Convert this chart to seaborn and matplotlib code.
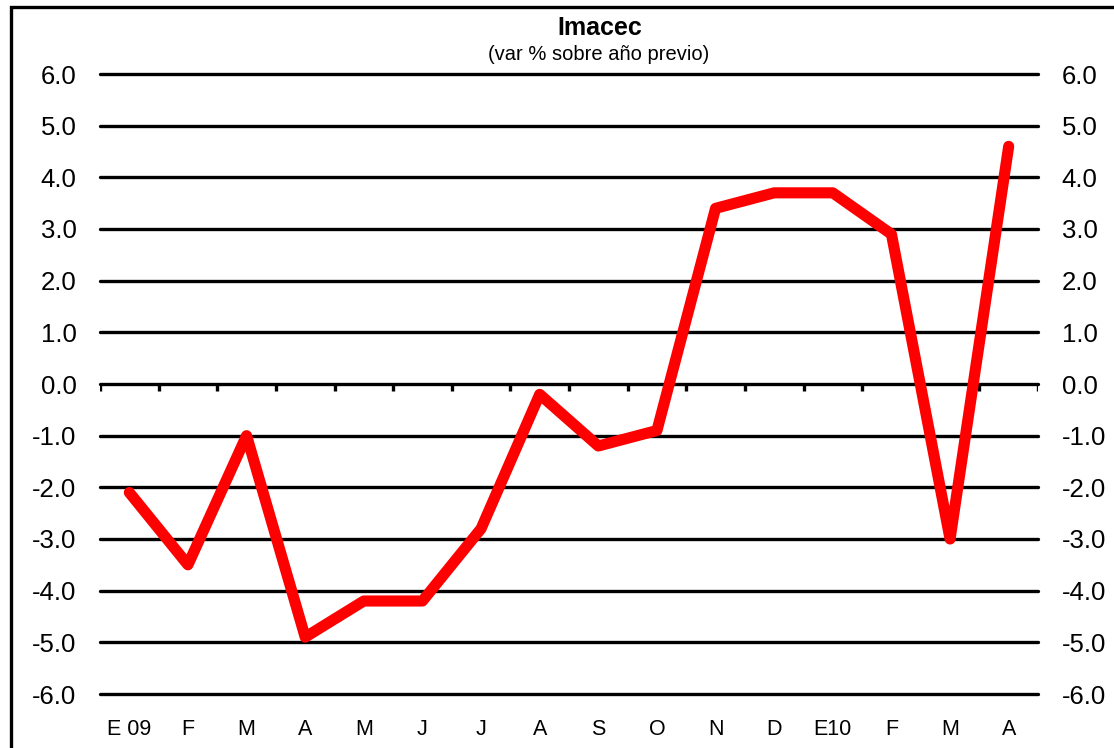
import numpy as np
import pandas as pd
import seaborn as sns
import matplotlib.pyplot as plt
from matplotlib.patches import Rectangle

# Imacec, var % sobre año previo
months = ['E 09', 'F', 'M', 'A', 'M', 'J', 'J', 'A', 'S', 'O',
          'N', 'D', 'E10', 'F', 'M', 'A']
imacec = [-2.1, -3.5, -1.0, -4.9, -4.2, -4.2, -2.8, -0.2, -1.2, -0.9,
          3.4, 3.7, 3.7, 2.9, -3.0, 4.6]
yticks = [-6.0, -5.0, -4.0, -3.0, -2.0, -1.0, 0.0, 1.0, 2.0, 3.0, 4.0, 5.0, 6.0]

df = pd.DataFrame({'pos': np.arange(len(months)), 'imacec': imacec})

sns.set_theme(style='white')
plt.rcParams['font.family'] = ['Liberation Sans', 'DejaVu Sans']
plt.rcParams['text.color'] = 'black'

fig = plt.figure(figsize=(11.14, 7.48), dpi=100)
ax = fig.add_axes([100 / 1114, 1 - 694 / 748, 938 / 1114, 620 / 748])

sns.lineplot(data=df, x='pos', y='imacec', color='#FF0000', linewidth=8,
             solid_capstyle='round', solid_joinstyle='round', ax=ax, zorder=3)

ax.set_xlim(-0.5, len(months) - 0.5)
ax.set_ylim(-6, 6)
ax.set_yticks(yticks)
ax.set_yticklabels([f'{v:.1f}' for v in yticks])
ax.set_xticks(df['pos'])
ax.set_xticklabels(months)
ax.set_xlabel('')
ax.set_ylabel('')

for v in yticks:
    ax.axhline(v, color='black', lw=2.4, zorder=1, clip_on=False)

# little tick marks on the zero line at category boundaries
ax.vlines(np.arange(-0.5, len(months)), -0.13, 0, color='black', lw=2.4, zorder=1)

for s in ax.spines.values():
    s.set_visible(False)

ax.tick_params(axis='y', length=0, labelsize=18.5, pad=17,
               labelleft=True, labelright=True, colors='black')
ax.tick_params(axis='x', length=0, labelsize=15.5, pad=18, colors='black')

fig.text(600 / 1114, 1 - 28 / 748, 'Imacec', ha='center', va='center',
         fontsize=18, fontweight='bold', color='black')
fig.text(599 / 1114, 1 - 55 / 748, '(var % sobre año previo)', ha='center',
         va='center', fontsize=14.5, color='black')

fig.patches.append(Rectangle((11 / 1114, -0.1), 1.2, 1 - 7 / 748 + 0.1,
                             transform=fig.transFigure, fill=False,
                             edgecolor='black', lw=2.4))

fig.savefig('out.png', dpi=100)
